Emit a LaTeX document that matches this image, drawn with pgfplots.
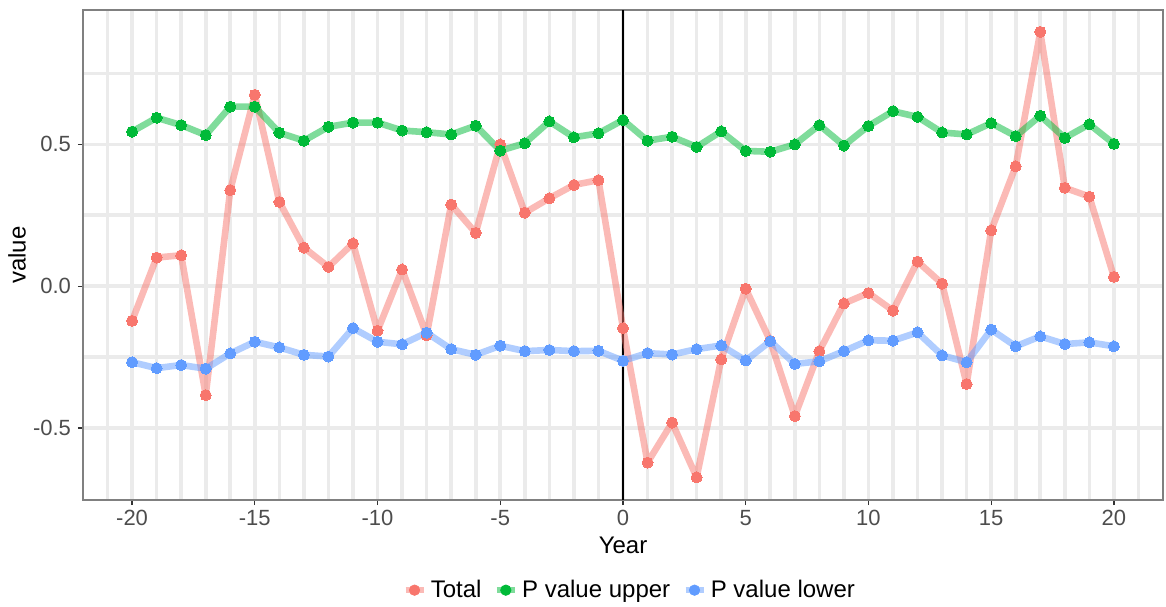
\documentclass[border=0pt]{standalone}
\usepackage{fontspec}
\setmainfont{Liberation Sans}
\usepackage{pgfplots}
\usepackage{pgfplotstable}
\pgfplotsset{compat=1.18}
\definecolor{ctot}{HTML}{F8766D}
\definecolor{cup}{HTML}{00BA38}
\definecolor{clow}{HTML}{619CFF}
\definecolor{gridc}{HTML}{EBEBEB}
\definecolor{tickc}{HTML}{4D4D4D}
\definecolor{borderc}{HTML}{808080}

\pgfplotstableread{
Year Total Upper Lower
-20 -0.122 0.545 -0.268
-19 0.101 0.594 -0.289
-18 0.109 0.568 -0.278
-17 -0.384 0.533 -0.291
-16 0.339 0.633 -0.237
-15 0.675 0.633 -0.196
-14 0.297 0.541 -0.216
-13 0.136 0.513 -0.242
-12 0.068 0.562 -0.248
-11 0.151 0.577 -0.148
-10 -0.157 0.577 -0.196
-9 0.059 0.549 -0.205
-8 -0.173 0.543 -0.164
-7 0.288 0.535 -0.222
-6 0.188 0.566 -0.242
-5 0.500 0.478 -0.210
-4 0.259 0.504 -0.229
-3 0.310 0.581 -0.225
-2 0.357 0.525 -0.229
-1 0.374 0.539 -0.228
0 -0.148 0.586 -0.263
1 -0.622 0.513 -0.236
2 -0.481 0.527 -0.241
3 -0.674 0.491 -0.222
4 -0.258 0.546 -0.209
5 -0.009 0.477 -0.262
6 -0.193 0.474 -0.194
7 -0.458 0.500 -0.274
8 -0.229 0.568 -0.265
9 -0.061 0.496 -0.229
10 -0.024 0.565 -0.191
11 -0.086 0.617 -0.192
12 0.087 0.597 -0.163
13 0.009 0.542 -0.244
14 -0.345 0.535 -0.268
15 0.197 0.575 -0.153
16 0.423 0.529 -0.212
17 0.897 0.601 -0.177
18 0.347 0.523 -0.204
19 0.316 0.571 -0.198
20 0.033 0.502 -0.212
}\datatable

\begin{document}
\begin{tikzpicture}
\useasboundingbox (0,0) rectangle (583pt,303pt);
\begin{axis}[
  at={(41.5pt,53pt)}, anchor=south west,
  width=540pt, height=245pt, scale only axis,
  xmin=-22, xmax=22, ymin=-0.754, ymax=0.974,
  xtick={-20,-15,-10,-5,0,5,10,15,20},
  xticklabels={-20,-15,-10,-5,0,5,10,15,20},
  minor xtick={-21,-20,...,21},
  ytick={-0.5,0,0.5},
  yticklabels={-0.5,0.0,0.5},
  minor ytick={-0.25,0.25,0.75},
  grid=both,
  major grid style={gridc, line width=1.8pt},
  minor grid style={gridc, line width=1.8pt},
  axis line style={borderc, line width=0.9pt},
  tick align=outside,
  xtick pos=lower, ytick pos=left,
  major tick length=2.5pt, minor tick length=0pt,
  tick style={color=black!80, line width=0.6pt},
  tick label style={font=\fontsize{11}{12}\selectfont, text=tickc},
  xticklabel style={yshift=1pt},
  xlabel={Year}, ylabel={value},
  label style={font=\fontsize{12}{14}\selectfont, text=black},
  xlabel style={at={(axis description cs:0.5,0)}, anchor=center, yshift=-22.5pt},
  ylabel style={at={(axis description cs:-0.061,0.5)}, anchor=center},
  legend columns=3,
  legend style={at={(axis description cs:0.507,-0.184)}, anchor=center, draw=none, fill=none,
    font=\fontsize{12}{14}\selectfont, /tikz/every even column/.append style={column sep=4pt}},
  legend image code/.code={\draw[line width=3.3pt, draw opacity=0.5] (0pt,0pt) -- (9pt,0pt); \fill (4.5pt,0pt) circle (2.6pt);},
  clip=false,
]
\addplot[black, line width=0.9pt, forget plot] coordinates {(0,-0.754) (0,0.974)};
\addplot[ctot, line width=3.3pt, draw opacity=0.5, line join=round, line cap=round, no marks, forget plot] table[x=Year,y=Total] \datatable;
\addplot[cup, line width=3.3pt, draw opacity=0.5, line join=round, line cap=round, no marks, forget plot] table[x=Year,y=Upper] \datatable;
\addplot[clow, line width=3.3pt, draw opacity=0.5, line join=round, line cap=round, no marks, forget plot] table[x=Year,y=Lower] \datatable;
\addplot[ctot, only marks, mark=*, mark size=2.75pt, mark options={line width=0pt}, forget plot] table[x=Year,y=Total] \datatable;
\addplot[cup, only marks, mark=*, mark size=2.75pt, mark options={line width=0pt}, forget plot] table[x=Year,y=Upper] \datatable;
\addplot[clow, only marks, mark=*, mark size=2.75pt, mark options={line width=0pt}, forget plot] table[x=Year,y=Lower] \datatable;
\addlegendimage{ctot}\addlegendentry{Total}
\addlegendimage{cup}\addlegendentry{P value upper}
\addlegendimage{clow}\addlegendentry{P value lower}
\end{axis}
\end{tikzpicture}
\end{document}
